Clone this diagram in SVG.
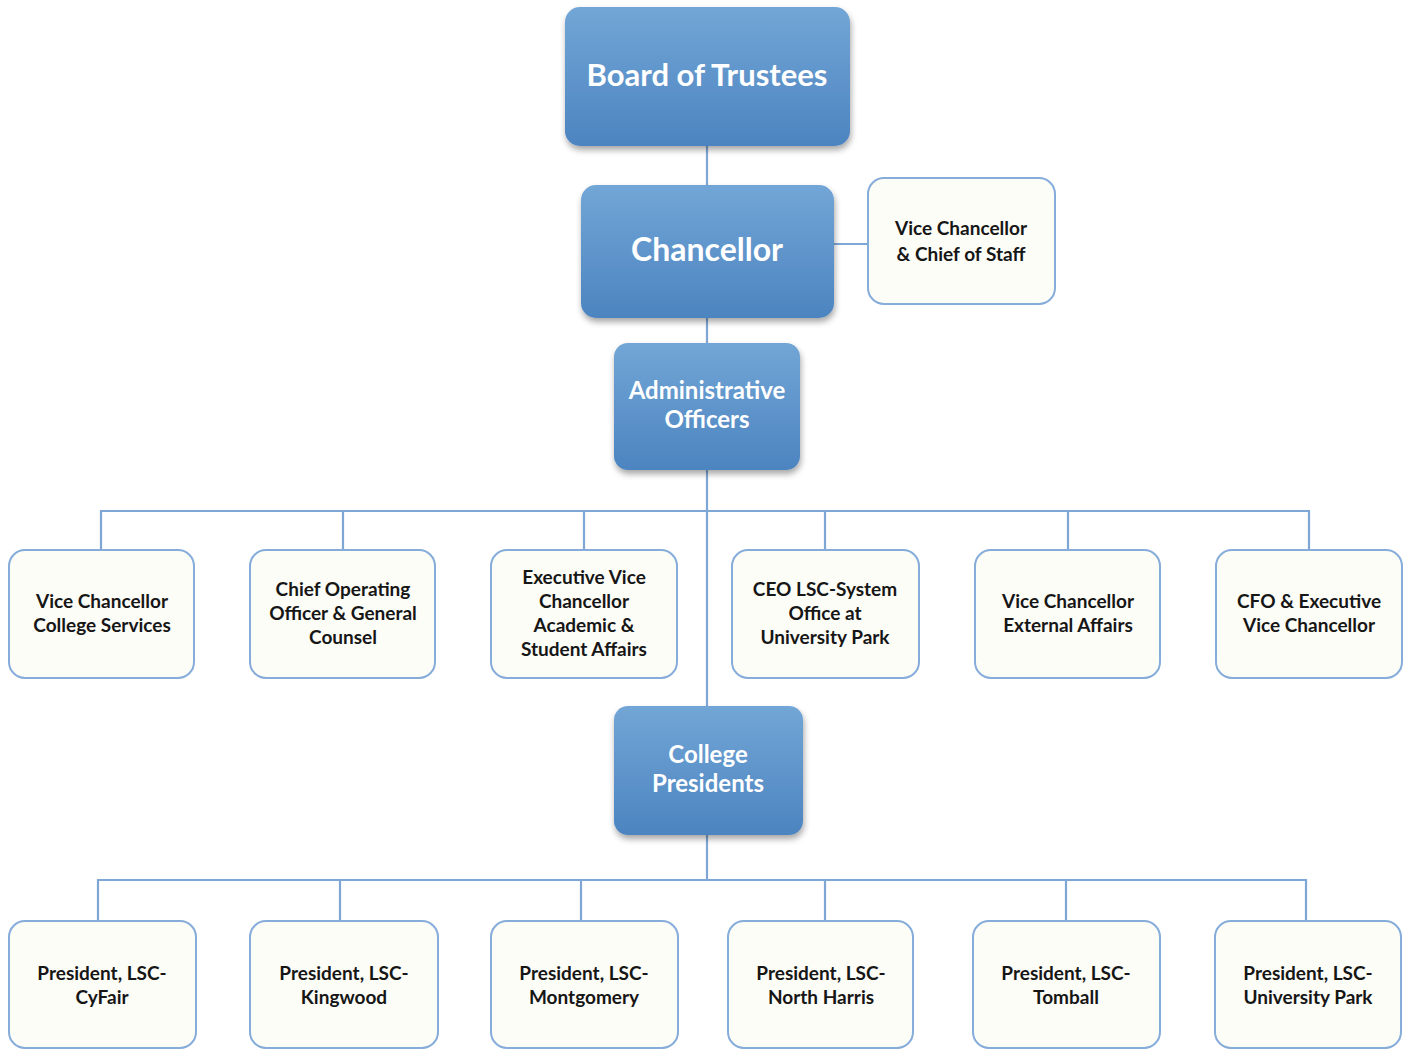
<svg xmlns="http://www.w3.org/2000/svg" width="1411" height="1049" viewBox="0 0 1411 1049">
<style>
.blue{fill:url(#bg);filter:url(#sh)}
.box{fill:#fdfdf8;stroke:#86acda;stroke-width:2}
.wt{font-family:Lato,"Open Sans",sans-serif;font-weight:bold;fill:#fff;text-anchor:middle}
.bt{font-family:Lato,"Open Sans",sans-serif;font-weight:bold;fill:#161616;text-anchor:middle;font-size:19px}
.ln{stroke:#7fa7d6;stroke-width:2.2;fill:none}
</style>
<defs>
<linearGradient id="bg" x1="0" y1="0" x2="0" y2="1">
<stop offset="0" stop-color="#72a6d6"/>
<stop offset="1" stop-color="#4c84c0"/>
</linearGradient>
<filter id="sh" x="-10%" y="-10%" width="125%" height="125%">
<feDropShadow dx="1" dy="4" stdDeviation="3" flood-color="#000" flood-opacity="0.35"/>
</filter>
</defs>
<rect width="1411" height="1049" fill="#fff"/>
<g id="connectors">
<path class="ln" d="M707 146V185M707 318V343M707 470V706M707 835V880"/>
<path class="ln" d="M834 244H868"/>
<path class="ln" d="M101 550V511H1309V550M343 511V550M584 511V550M825 511V550M1068 511V550"/>
<path class="ln" d="M98 921V880H1306V921M340 880V921M581 880V921M825 880V921M1066 880V921"/>
</g>
<g id="board"><rect class="blue" x="565" y="7" width="285" height="139" rx="15"/><text class="wt" x="707" y="86" font-size="31">Board of Trustees</text></g>
<g id="chancellor"><rect class="blue" x="581" y="185" width="253" height="133" rx="15"/><text class="wt" x="707" y="261" font-size="32">Chancellor</text></g>
<g id="vc-staff"><rect class="box" x="868" y="178" width="187" height="126" rx="16"/><text class="bt" x="961" y="235">Vice Chancellor</text><text class="bt" x="961" y="261">&amp; Chief of Staff</text></g>
<g id="admin"><rect class="blue" x="614" y="343" width="186" height="127" rx="14"/><text class="wt" x="707" y="399" font-size="24">Administrative</text><text class="wt" x="707" y="428" font-size="24">Officers</text></g>
<g id="vc-college"><rect class="box" x="9" y="550" width="185" height="128" rx="16"/><text class="bt" x="102" y="608">Vice Chancellor</text><text class="bt" x="102" y="632">College Services</text></g>
<g id="coo"><rect class="box" x="250" y="550" width="185" height="128" rx="16"/><text class="bt" x="343" y="596">Chief Operating</text><text class="bt" x="343" y="620">Officer &amp; General</text><text class="bt" x="343" y="644">Counsel</text></g>
<g id="evc"><rect class="box" x="491" y="550" width="186" height="128" rx="16"/><text class="bt" x="584" y="584">Executive Vice</text><text class="bt" x="584" y="608">Chancellor</text><text class="bt" x="584" y="632">Academic &amp;</text><text class="bt" x="584" y="656">Student Affairs</text></g>
<g id="ceo"><rect class="box" x="732" y="550" width="187" height="128" rx="16"/><text class="bt" x="825" y="596">CEO LSC-System</text><text class="bt" x="825" y="620">Office at</text><text class="bt" x="825" y="644">University Park</text></g>
<g id="vc-external"><rect class="box" x="975" y="550" width="185" height="128" rx="16"/><text class="bt" x="1068" y="608">Vice Chancellor</text><text class="bt" x="1068" y="632">External Affairs</text></g>
<g id="cfo"><rect class="box" x="1216" y="550" width="186" height="128" rx="16"/><text class="bt" x="1309" y="608">CFO &amp; Executive</text><text class="bt" x="1309" y="632">Vice Chancellor</text></g>
<g id="presidents"><rect class="blue" x="614" y="706" width="189" height="129" rx="14"/><text class="wt" x="708" y="763" font-size="24">College</text><text class="wt" x="708" y="792" font-size="24">Presidents</text></g>
<g id="cyfair"><rect class="box" x="9" y="921" width="187" height="127" rx="16"/><text class="bt" x="102" y="980">President, LSC-</text><text class="bt" x="102" y="1004">CyFair</text></g>
<g id="kingwood"><rect class="box" x="250" y="921" width="188" height="127" rx="16"/><text class="bt" x="344" y="980">President, LSC-</text><text class="bt" x="344" y="1004">Kingwood</text></g>
<g id="montgomery"><rect class="box" x="491" y="921" width="187" height="127" rx="16"/><text class="bt" x="584" y="980">President, LSC-</text><text class="bt" x="584" y="1004">Montgomery</text></g>
<g id="northharris"><rect class="box" x="728" y="921" width="185" height="127" rx="16"/><text class="bt" x="821" y="980">President, LSC-</text><text class="bt" x="821" y="1004">North Harris</text></g>
<g id="tomball"><rect class="box" x="973" y="921" width="187" height="127" rx="16"/><text class="bt" x="1066" y="980">President, LSC-</text><text class="bt" x="1066" y="1004">Tomball</text></g>
<g id="univpark"><rect class="box" x="1215" y="921" width="186" height="127" rx="16"/><text class="bt" x="1308" y="980">President, LSC-</text><text class="bt" x="1308" y="1004">University Park</text></g>
</svg>
